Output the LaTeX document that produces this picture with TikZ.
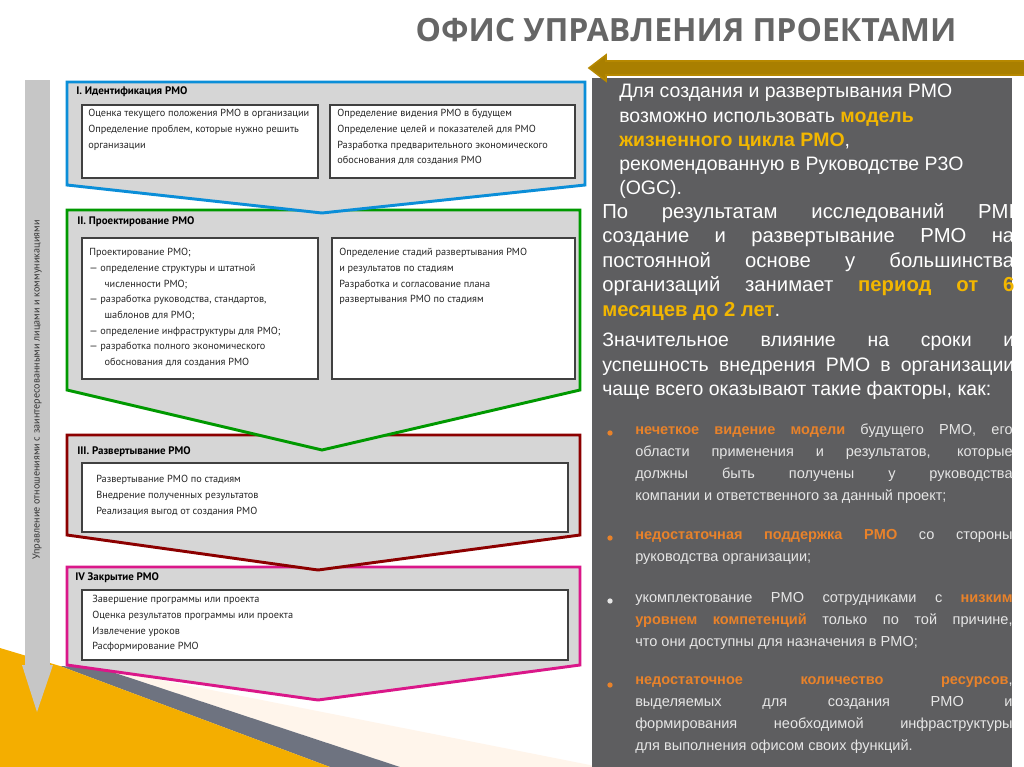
\documentclass[tikz,border=0pt]{standalone}
\usepackage{fontspec}
\setmainfont{Liberation Sans}
\newfontfamily\boxf{PT Sans}
\newfontfamily\titf{Open Sans}
\usepackage{xcolor}
\definecolor{panel}{HTML}{5E5E60}
\definecolor{gold}{HTML}{F2B600}
\definecolor{orng}{HTML}{E8822A}
\definecolor{stgray}{HTML}{D6D6D6}
\definecolor{bullettxt}{HTML}{E6E6E6}
\definecolor{band}{HTML}{6E7380}
\begin{document}
\begin{tikzpicture}[x=0.75pt,y=-0.75pt,
  stage/.style={fill=stgray,line width=2.2pt,line join=miter},
  inbox/.style={draw=black!75,fill=white,line width=0.8pt},
  boxtxt/.style={font=\boxf\fontsize{7.7}{11.8}\selectfont,align=left,anchor=north west,inner sep=0pt,text=black!85},
  sttitle/.style={font=\boxf\bfseries\fontsize{8.2}{9}\selectfont,anchor=west,inner sep=0pt},
  ptxt/.style={font=\fontsize{14.6}{18.2}\selectfont,text=white,anchor=north west,inner sep=0pt},
  btxt/.style={font=\fontsize{10.9}{16.5}\selectfont,text=bullettxt,anchor=north west,inner sep=0pt,align=justify,text width=283pt}]
\useasboundingbox (0,0) rectangle (1024,767);
\fill[white] (0,0) rectangle (1024,767);
% bottom-left decoration
\fill[orange!8] (100,668) -- (600,767) -- (400,767) -- cycle;
\fill[band] (60,666) -- (100,668) -- (400,767) -- (330,767) -- cycle;
\fill[gold!85!orange] (0,648) -- (60,666) -- (330,767) -- (0,767) -- cycle;
% title
\node[font=\titf\bfseries\fontsize{24}{28}\selectfont,text=black!60] (title) at (686,30) {ОФИС УПРАВЛЕНИЯ ПРОЕКТАМИ};
% right panel
\fill[panel] (592,78) rectangle (1012,767);
\draw[gold!75!black,line width=1.2pt,fill=gold!70!black] (1024,61) -- (606,61) -- (606,55) -- (589,68) -- (606,81) -- (606,75) -- (1024,75);
% vertical arrow
\fill[gray!45] (25,80) rectangle (50,665);
\fill[gray!45] (22,665) -- (53,665) -- (37,712) -- cycle;
\node[rotate=90,font=\boxf\fontsize{7.6}{8}\selectfont,text=black!80] (vtxt) at (37,390) {Управление отношениями с заинтересованными лицами и коммуникациями};
% stage IV
\draw[stage,draw=magenta!80!violet] (67,567) -- (580,567) -- (580,665) -- (318,700) -- (67,665) -- cycle;
\node[sttitle] (t4) at (75,578) {IV Закрытие PMO};
\draw[inbox] (82,590) rectangle (568,660);
\node[boxtxt] (b4) at (92,595) {Завершение программы или проекта\\Оценка результатов программы или проекта\\Извлечение уроков\\Расформирование PMO};
% stage III
\draw[stage,draw=red!55!black] (67,435) -- (580,435) -- (580,535) -- (318,570) -- (67,535) -- cycle;
\node[sttitle] (t3) at (77,452) {III. Развертывание PMO};
\draw[inbox] (82,463) rectangle (568,532);
\node[boxtxt] (b3) at (96,475) {Развертывание PMO по стадиям\\Внедрение полученных результатов\\Реализация выгод от создания PMO};
% stage II
\draw[stage,draw=green!60!black] (67,210) -- (580,210) -- (580,390) -- (322,450) -- (67,390) -- cycle;
\node[sttitle] (t2) at (77,222) {II. Проектирование PMO};
\draw[inbox] (82,238) rectangle (318,379);
\draw[inbox] (332,238) rectangle (575,379);
\node[boxtxt] (b2a) at (89,248) {Проектирование PMO;\\— определение структуры и штатной\\\hspace*{1.5em}численности PMO;\\— разработка руководства, стандартов,\\\hspace*{1.5em}шаблонов для PMO;\\— определение инфраструктуры для PMO;\\— разработка полного экономического\\\hspace*{1.5em}обоснования для создания PMO};
\node[boxtxt] (b2b) at (339,248) {Определение стадий развертывания PMO\\и результатов по стадиям\\Разработка и согласование плана\\развертывания PMO по стадиям};
% stage I
\draw[stage,draw=cyan!75!blue] (67,82) -- (585,82) -- (585,185) -- (322,213) -- (67,185) -- cycle;
\node[sttitle] (t1) at (76,92) {I. Идентификация PMO};
\draw[inbox] (82,105) rectangle (318,178);
\draw[inbox] (330,105) rectangle (575,178);
\node[boxtxt] (b1a) at (88,109) {Оценка текущего положения PMO в организации\\Определение проблем, которые нужно решить\\организации};
\node[boxtxt] (b1b) at (337,109) {Определение видения PMO в будущем\\Определение целей и показателей для PMO\\Разработка предварительного экономического\\обоснования для создания PMO};
% panel text
\node[ptxt,align=left] (p1) at (619,84) {Для создания и развертывания PMO\\возможно использовать \textcolor{gold}{\textbf{модель}}\\\textcolor{gold}{\textbf{жизненного цикла PMO}},\\рекомендованную в Руководстве P3O\\(OGC).};
\node[ptxt,font=\fontsize{15.2}{18.4}\selectfont,align=justify,text width=309pt] (p2) at (602,203) {По результатам исследований PMI\linebreak создание и развертывание PMO на\linebreak постоянной основе у большинства\linebreak организаций занимает \textcolor{gold}{\textbf{период от 6}}\linebreak \textcolor{gold}{\textbf{месяцев до 2 лет}}.};
\node[ptxt,align=justify,text width=309pt] (p3) at (602,333) {Значительное влияние на сроки и\linebreak успешность внедрения PMO в организации\linebreak чаще всего оказывают такие факторы, как:};
\node[btxt] (q1) at (635,424) {\textcolor{orng}{\textbf{нечеткое видение модели}} будущего PMO, его\linebreak области применения и результатов, которые\linebreak должны быть получены у руководства\linebreak компании и ответственного за данный проект;};
\node[btxt] (q2) at (635,529) {\textcolor{orng}{\textbf{недостаточная поддержка PMO}} со стороны\linebreak руководства организации;};
\node[btxt] (q3) at (635,592) {укомплектование PMO сотрудниками с \textcolor{orng}{\textbf{низким}}\linebreak \textcolor{orng}{\textbf{уровнем компетенций}} только по той причине,\linebreak что они доступны для назначения в PMO;};
\node[btxt] (q4) at (635,676) {\textcolor{orng}{\textbf{недостаточное количество ресурсов}},\linebreak выделяемых для создания PMO и\linebreak формирования необходимой инфраструктуры\linebreak для выполнения офисом своих функций.};
\foreach \yy/\c in {433/orng,538/orng,601/bullettxt,685/orng}
  \fill[\c] (610,\yy) circle (2pt);
\end{tikzpicture}
\end{document}
